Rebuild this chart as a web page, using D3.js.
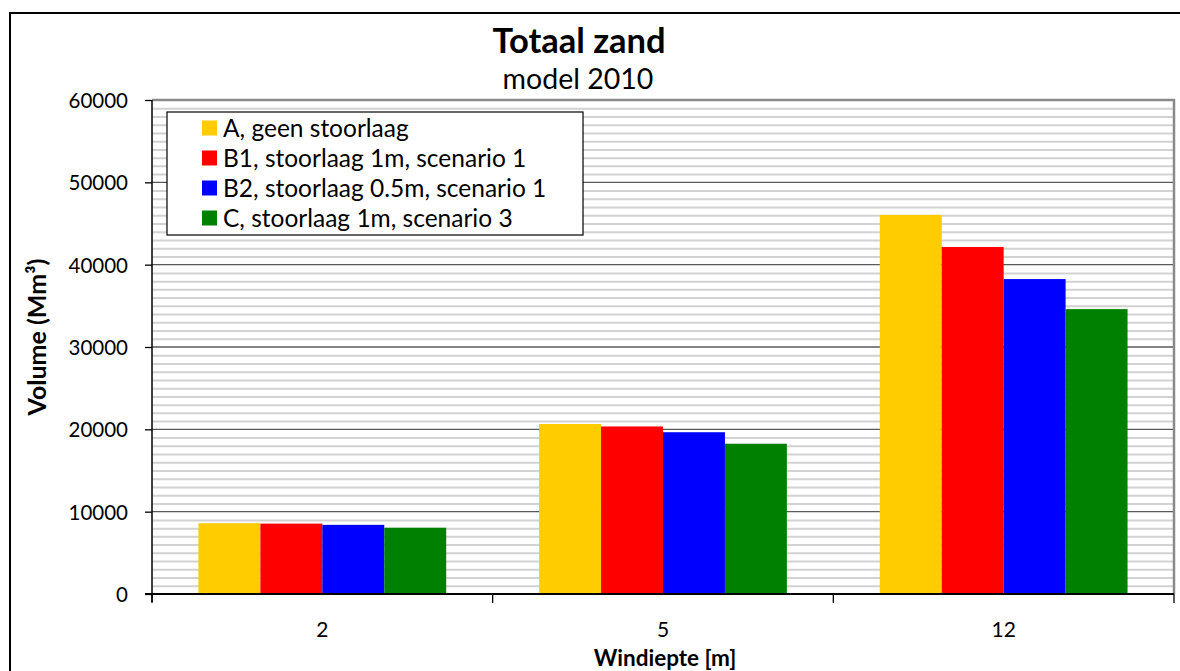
<!DOCTYPE html>
<html>
<head>
<meta charset="utf-8">
<script src="https://cdn.jsdelivr.net/npm/d3@7"></script>
<style>
  html, body { margin: 0; padding: 0; background: #fff; }
  svg { display: block; }
  text { font-family: Lato, "Open Sans", sans-serif; fill: #000; }
</style>
</head>
<body>
<svg id="chart" width="1180" height="671"></svg>
<script>
// Wind depth categories (m)
const categories = ["2", "5", "12"];
// Scenario names shown in the legend
const seriesNames = [
  "A, geen stoorlaag",
  "B1, stoorlaag 1m, scenario 1",
  "B2, stoorlaag 0.5m, scenario 1",
  "C, stoorlaag 1m, scenario 3"
];
const seriesColors = ["#FFCC00", "#FF0000", "#0000FF", "#008000"];
// Total sand volume per scenario (Mm³), one value per wind depth
const valuesA  = [8600, 20650, 46050];
const valuesB1 = [8550, 20350, 42150];
const valuesB2 = [8400, 19650, 38250];
const valuesC  = [8050, 18250, 34600];
const seriesValues = [valuesA, valuesB1, valuesB2, valuesC];
const yTicks = [0, 10000, 20000, 30000, 40000, 50000, 60000];

const svg = d3.select("#chart");
const plot = { left: 152, right: 1174, top: 100, bottom: 594 };

// Outer chart frame
svg.append("rect")
  .attr("x", 10).attr("y", 13).attr("width", 1200).attr("height", 700)
  .attr("fill", "#fff").attr("stroke", "#000").attr("stroke-width", 2);

const y = d3.scaleLinear().domain([0, 60000]).range([plot.bottom, plot.top]);
const x0 = d3.scaleBand().domain(categories).range([plot.left, plot.right]).padding(0);
const x1 = d3.scaleBand().domain(d3.range(seriesNames.length))
  .range([0, x0.bandwidth()]).paddingInner(0).paddingOuter(0.75);

// Minor gridlines every 1000
const minor = d3.range(1000, 60000, 1000).filter(v => v % 10000 !== 0);
svg.append("g").selectAll("line").data(minor).join("line")
  .attr("x1", plot.left).attr("x2", plot.right)
  .attr("y1", d => y(d) + 0.5).attr("y2", d => y(d) + 0.5)
  .attr("stroke", "#d2d2d2").attr("stroke-width", 2);

// Major gridlines
svg.append("g").selectAll("line").data(yTicks.slice(1, -1)).join("line")
  .attr("x1", plot.left).attr("x2", plot.right)
  .attr("y1", d => y(d)).attr("y2", d => y(d))
  .attr("stroke", "#5a5a5a").attr("stroke-width", 1.3);

// Plot area border (top and right)
svg.append("path")
  .attr("d", `M${plot.left},${plot.top}H${plot.right}V${plot.bottom}`)
  .attr("fill", "none").attr("stroke", "#8a8a8a").attr("stroke-width", 2.5);

// Bars
const groups = svg.append("g").selectAll("g").data(categories).join("g")
  .attr("transform", c => `translate(${x0(c)},0)`);
groups.selectAll("rect")
  .data((c, ci) => seriesValues.map((vals, si) => ({ si, v: vals[ci] })))
  .join("rect")
  .attr("x", d => x1(d.si))
  .attr("width", x1.bandwidth())
  .attr("y", d => y(d.v))
  .attr("height", d => y(0) - y(d.v))
  .attr("fill", d => seriesColors[d.si]);

// Y axis
const yAxis = svg.append("g")
  .attr("transform", `translate(${plot.left},0)`)
  .call(d3.axisLeft(y).tickValues(yTicks).tickSize(7).tickPadding(17).tickFormat(d3.format("d")));
yAxis.select(".domain").attr("stroke", "#000").attr("stroke-width", 1.5)
  .attr("d", `M0,${plot.top}V${plot.bottom + 8}`);
yAxis.selectAll(".tick line").attr("stroke", "#000").attr("stroke-width", 1.3);
yAxis.selectAll(".tick text").attr("font-size", 20.5).attr("dy", "0.36em")
  .style("font-family", "Lato, sans-serif");

// X axis with ticks at category boundaries
const xAxis = svg.append("g").attr("transform", `translate(0,${plot.bottom})`);
xAxis.append("line").attr("x1", plot.left - 7).attr("x2", plot.right)
  .attr("stroke", "#000").attr("stroke-width", 2);
const bounds = categories.map(c => x0(c)).concat([x0(categories[categories.length - 1]) + x0.bandwidth()]);
xAxis.selectAll("line.tk").data(bounds).join("line").attr("class", "tk")
  .attr("x1", d => d).attr("x2", d => d).attr("y1", 0).attr("y2", 9)
  .attr("stroke", "#000").attr("stroke-width", 1.3);
xAxis.selectAll("text").data(categories).join("text")
  .attr("x", c => x0(c) + x0.bandwidth() / 2).attr("y", 43)
  .attr("text-anchor", "middle").attr("font-size", 21).text(c => c);

// Titles
svg.append("text").attr("x", 579).attr("y", 53).attr("text-anchor", "middle")
  .attr("font-size", 34.5).attr("font-weight", "bold").text("Totaal zand");
svg.append("text").attr("x", 578).attr("y", 89).attr("text-anchor", "middle")
  .attr("font-size", 28.5).text("model 2010");
svg.append("text").attr("x", 665).attr("y", 666).attr("text-anchor", "middle")
  .attr("font-size", 22.5).attr("font-weight", "bold").text("Windiepte [m]");
svg.append("text").attr("transform", "translate(46,337) rotate(-90)")
  .attr("text-anchor", "middle").attr("font-size", 25).attr("font-weight", "bold")
  .text("Volume (Mm³)");

// Legend
const legend = svg.append("g");
legend.append("rect").attr("x", 167).attr("y", 112).attr("width", 416).attr("height", 123)
  .attr("fill", "#fff").attr("stroke", "#000").attr("stroke-width", 1.2);
const items = legend.selectAll("g.item").data(seriesNames).join("g").attr("class", "item")
  .attr("transform", (d, i) => `translate(202,${128 + i * 30})`);
items.append("rect").attr("x", 0).attr("y", -7.5).attr("width", 15).attr("height", 15)
  .attr("fill", (d, i) => seriesColors[i]);
items.append("text").attr("x", 21).attr("y", 0).attr("dy", "0.36em")
  .attr("font-size", 24.5).text(d => d);
</script>
</body>
</html>
